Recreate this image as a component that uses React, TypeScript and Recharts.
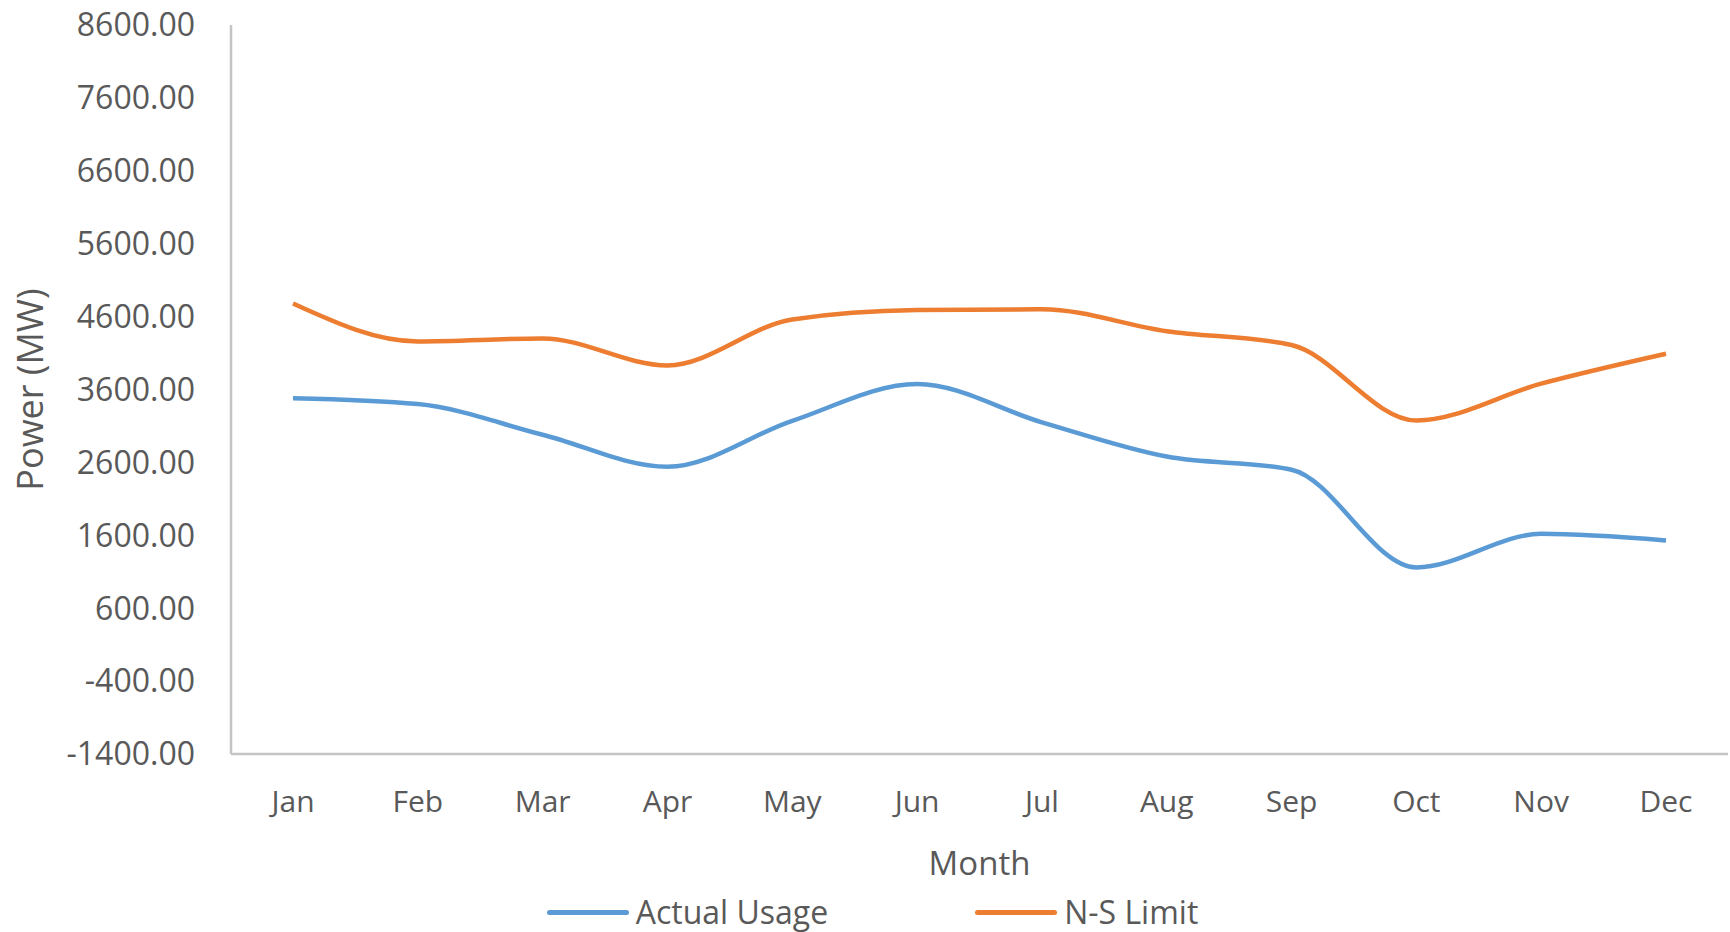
import { LineChart, Line, XAxis, YAxis, Legend, Label } from "recharts"

const months = ["Jan", "Feb", "Mar", "Apr", "May", "Jun", "Jul", "Aug", "Sep", "Oct", "Nov", "Dec"]
const actualUsage = [3480, 3400, 2980, 2540, 3170, 3675, 3150, 2680, 2500, 1160, 1620, 1530]
const nsLimit = [4780, 4260, 4300, 3930, 4560, 4690, 4700, 4400, 4210, 3175, 3680, 4090]
const yTicks = [-1400, -400, 600, 1600, 2600, 3600, 4600, 5600, 6600, 7600, 8600]

const series = [
  { key: "actual", name: "Actual Usage", color: "#5B9BD5" },
  { key: "limit", name: "N-S Limit", color: "#ED7D31" },
]

const data = months.map((m, i) => ({ month: m, actual: actualUsage[i], limit: nsLimit[i] }))

const FONT = "'Open Sans', 'Noto Sans', sans-serif"
const AXIS_COLOR = "#C4C4C4"
const TEXT_COLOR = "#595959"

function LegendContent() {
  return (
    <div
      style={{
        display: "flex",
        justifyContent: "center",
        alignItems: "center",
        height: 42,
        marginTop: 9,
        marginLeft: 17,
        fontFamily: FONT,
        fontSize: 32,
        lineHeight: "42px",
        color: TEXT_COLOR,
      }}
    >
      {series.map((s, i) => (
        <div key={s.key} style={{ display: "flex", alignItems: "center", marginLeft: i > 0 ? 147 : 0 }}>
          <span style={{ display: "inline-block", width: 82, height: 5, borderRadius: 3, background: s.color, marginRight: 7 }} />
          <span>{s.name}</span>
        </div>
      ))}
    </div>
  )
}

export default function App() {
  return (
    <div style={{ position: "absolute", left: 0, top: 0, width: 1730, height: 932, background: "#fff" }}>
      <LineChart width={1730} height={932} data={data} margin={{ top: 25, right: 2, left: 0, bottom: 0 }}>
        <XAxis
          dataKey="month"
          height={128}
          padding={{ left: 62, right: 62 }}
          axisLine={{ stroke: AXIS_COLOR, strokeWidth: 2.5 }}
          tickLine={false}
          tickSize={0}
          tickMargin={37}
          tick={{ fill: TEXT_COLOR, fontSize: 30, fontFamily: FONT }}
        >
          <Label value="Month" position="insideBottom" offset={7} style={{ fill: TEXT_COLOR, fontSize: 33, fontFamily: FONT }} />
        </XAxis>
        <YAxis
          width={231}
          domain={[-1400, 8600]}
          ticks={yTicks}
          interval={0}
          tickFormatter={(v: number) => v.toFixed(2)}
          axisLine={{ stroke: AXIS_COLOR, strokeWidth: 2.5 }}
          tickLine={false}
          tickSize={0}
          tickMargin={36}
          tick={{ fill: TEXT_COLOR, fontSize: 32, fontFamily: FONT }}
        >
          <Label
            value="Power (MW)"
            angle={-90}
            position="insideLeft"
            offset={30}
            style={{ textAnchor: "middle", fill: TEXT_COLOR, fontSize: 36, fontFamily: FONT }}
          />
        </YAxis>
        <Legend verticalAlign="bottom" height={50} content={<LegendContent />} />
        {series.map((s) => (
          <Line
            key={s.key}
            type="monotone"
            dataKey={s.key}
            name={s.name}
            stroke={s.color}
            strokeWidth={4.5}
            dot={false}
            activeDot={false}
            isAnimationActive={false}
          />
        ))}
      </LineChart>
    </div>
  )
}
